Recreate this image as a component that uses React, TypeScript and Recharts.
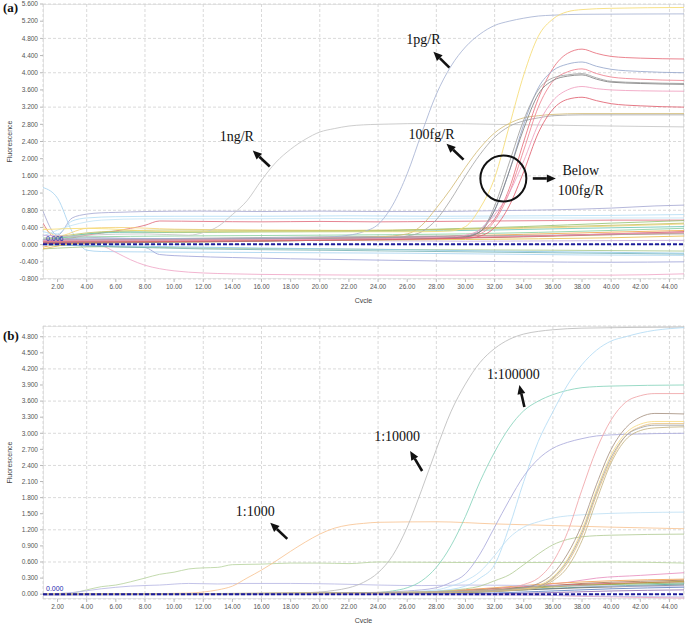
import { LineChart, Line, XAxis, YAxis, CartesianGrid, ReferenceLine, ReferenceDot, ReferenceArea } from "recharts";

type Pt = [number, number];

const cycleTicks = [2, 4, 6, 8, 10, 12, 14, 16, 18, 20, 22, 24, 26, 28, 30, 32, 34, 36, 38, 40, 42, 44];
const fluorTicksA = [-0.8, -0.4, 0, 0.4, 0.8, 1.2, 1.6, 2.0, 2.4, 2.8, 3.2, 3.6, 4.0, 4.4, 4.8, 5.2, 5.6];
const fluorTicksB = [0, 0.3, 0.6, 0.9, 1.2, 1.5, 1.8, 2.1, 2.4, 2.7, 3.0, 3.3, 3.6, 3.9, 4.2, 4.5, 4.8];

// ---- panel (a): template dilutions ----
const a1ng: Pt[] = [[1, 0.15], [4, 0.22], [8, 0.25], [11, 0.22], [12, 0.28], [13, 0.42], [14, 0.7], [15, 1.02], [16, 1.5], [17, 1.92], [18, 2.22], [19, 2.45], [20, 2.62], [21, 2.7], [22, 2.76], [24, 2.8], [28, 2.82], [32, 2.8], [36, 2.78], [40, 2.76], [45, 2.74]];
const a1pg: Pt[] = [[1, 0.1], [4, 0.15], [10, 0.14], [16, 0.15], [20, 0.17], [22, 0.22], [23, 0.3], [24, 0.47], [25, 0.92], [26, 1.65], [27, 2.6], [28, 3.5], [29, 4.15], [30, 4.6], [31, 4.9], [32, 5.1], [33, 5.2], [34, 5.27], [35, 5.32], [36, 5.34], [38, 5.36], [45, 5.37]];
const a100fgTan: Pt[] = [[1, 0.1], [10, 0.12], [20, 0.15], [24, 0.18], [26, 0.25], [27, 0.45], [28, 0.85], [29, 1.3], [30, 1.8], [31, 2.25], [32, 2.6], [33, 2.82], [34, 2.95], [35, 3.0], [36, 3.03], [38, 3.05], [45, 3.05]];
const a100fgGray: Pt[] = [[1, 0.05], [10, 0.1], [20, 0.12], [25, 0.15], [26, 0.2], [27, 0.3], [28, 0.58], [29, 1.05], [30, 1.6], [31, 2.1], [32, 2.5], [33, 2.75], [34, 2.88], [35, 2.95], [36, 3.0], [38, 3.02], [45, 3.02]];
const aYellowTop: Pt[] = [[1, 0.35], [4, 0.38], [10, 0.3], [20, 0.3], [27, 0.3], [29, 0.32], [30, 0.42], [31, 0.85], [32, 1.55], [33, 2.75], [34, 3.95], [35, 4.85], [36, 5.25], [37, 5.42], [38, 5.47], [40, 5.5], [45, 5.52]];
const aLowRed1: Pt[] = [[1, 0.1], [20, 0.15], [30, 0.2], [31, 0.3], [32, 0.6], [33, 1.3], [34, 2.4], [35, 3.4], [36, 4.1], [37, 4.45], [38, 4.55], [39, 4.45], [40, 4.38], [42, 4.34], [45, 4.32]];
const aLowSlate: Pt[] = [[1, 0.12], [20, 0.15], [30, 0.2], [31, 0.35], [32, 0.8], [33, 1.7], [34, 2.8], [35, 3.65], [36, 4.05], [37, 4.2], [38, 4.25], [39, 4.15], [40, 4.08], [42, 4.03], [45, 4.0]];
const aLowRed2: Pt[] = [[1, 0.08], [20, 0.12], [30, 0.18], [31, 0.25], [32, 0.55], [33, 1.2], [34, 2.2], [35, 3.2], [36, 3.8], [37, 4.02], [38, 4.09], [39, 3.98], [40, 3.9], [42, 3.85], [45, 3.82]];
const aLowGray: Pt[] = [[1, 0.1], [20, 0.14], [30, 0.2], [31, 0.3], [32, 0.9], [33, 1.9], [34, 2.9], [35, 3.6], [36, 3.88], [37, 3.95], [38, 3.98], [39, 3.88], [40, 3.8], [42, 3.77], [45, 3.75]];
const aLowDark: Pt[] = [[1, 0.05], [20, 0.1], [30, 0.18], [31, 0.3], [32, 0.8], [33, 1.7], [34, 2.7], [35, 3.5], [36, 3.82], [37, 3.92], [38, 3.95], [39, 3.85], [40, 3.78], [42, 3.75], [45, 3.73]];
const aLowPink: Pt[] = [[1, 0.1], [20, 0.12], [29, 0.18], [30, 0.22], [31, 0.35], [32, 0.7], [33, 1.2], [34, 1.95], [35, 2.8], [36, 3.35], [37, 3.6], [38, 3.68], [39, 3.63], [40, 3.6], [42, 3.58], [45, 3.57]];
const aLowRed3: Pt[] = [[1, 0.06], [20, 0.1], [30, 0.15], [31, 0.2], [32, 0.4], [33, 0.9], [34, 1.7], [35, 2.6], [36, 3.15], [37, 3.38], [38, 3.43], [39, 3.35], [40, 3.28], [42, 3.23], [45, 3.2]];

const aBaseViolet: Pt[] = [[1, 0.78], [2, 0.22], [3, 0.62], [4, 0.71], [5, 0.74], [6, 0.75], [8, 0.77], [12, 0.78], [16, 0.77], [20, 0.78], [24, 0.77], [28, 0.77], [32, 0.79], [36, 0.81], [40, 0.85], [43, 0.9], [45, 0.92]];
const aBaseSky: Pt[] = [[1, 1.33], [2, 1.08], [3, 0.3], [4, -0.13], [5, -0.16], [8, -0.17], [14, -0.18], [20, -0.19], [26, -0.2], [32, -0.22], [38, -0.24], [45, -0.25]];
const aBasePinkLow: Pt[] = [[1, 0.08], [3, 0.02], [5, -0.03], [6, -0.18], [7, -0.35], [8, -0.48], [9, -0.56], [10, -0.61], [12, -0.66], [14, -0.68], [18, -0.7], [26, -0.71], [34, -0.71], [40, -0.71], [45, -0.68]];
const aBaseBlueLow: Pt[] = [[1, 0.02], [5, -0.04], [8, -0.07], [9, -0.23], [11, -0.27], [14, -0.3], [18, -0.33], [22, -0.35], [28, -0.38], [34, -0.4], [40, -0.41], [45, -0.4]];
const aBaseRed: Pt[] = [[1, 0.5], [2, 0.12], [4, 0.22], [6, 0.32], [8, 0.45], [9, 0.55], [12, 0.54], [16, 0.53], [20, 0.54], [24, 0.53], [28, 0.54], [32, 0.55], [36, 0.56], [40, 0.57], [45, 0.57]];
const aBaseSky2: Pt[] = [[1, 0.3], [2, 0.25], [3, 0.55], [4, 0.62], [6, 0.65], [10, 0.66], [16, 0.66], [22, 0.67], [28, 0.66], [34, 0.67], [40, 0.68], [45, 0.7]];
const aBaseSky3: Pt[] = [[1, 0.2], [3, 0.45], [5, 0.57], [8, 0.6], [14, 0.6], [20, 0.61], [26, 0.6], [32, 0.62], [38, 0.62], [45, 0.62]];
const aBaseYellow: Pt[] = [[1, 0.42], [2, 0.2], [4, 0.38], [6, 0.4], [10, 0.36], [16, 0.34], [22, 0.33], [28, 0.35], [34, 0.38], [40, 0.43], [45, 0.48]];
const aBaseGreen: Pt[] = [[1, 0.1], [3, 0.2], [6, 0.3], [10, 0.28], [16, 0.3], [22, 0.31], [28, 0.36], [34, 0.42], [40, 0.5], [45, 0.56]];
const aBaseTeal: Pt[] = [[1, 0.05], [4, 0.25], [7, 0.29], [12, 0.3], [18, 0.3], [25, 0.31], [32, 0.34], [38, 0.38], [45, 0.42]];
const aBaseOrange: Pt[] = [[1, -0.06], [4, 0.1], [10, 0.12], [16, 0.13], [22, 0.15], [28, 0.19], [34, 0.24], [40, 0.29], [45, 0.33]];
const aBaseBrown: Pt[] = [[1, 0.0], [6, 0.04], [12, 0.06], [20, 0.1], [28, 0.14], [34, 0.18], [40, 0.23], [45, 0.27]];
const aBaseGray: Pt[] = [[1, 0.05], [6, 0.12], [12, 0.15], [20, 0.18], [28, 0.2], [36, 0.22], [45, 0.25]];
const aBaseCrimson: Pt[] = [[1, 0.02], [6, 0.06], [12, 0.08], [20, 0.12], [28, 0.15], [34, 0.19], [40, 0.25], [45, 0.3]];
const aBaseSage: Pt[] = [[1, -0.1], [5, -0.05], [12, -0.08], [20, -0.1], [28, -0.12], [36, -0.13], [45, -0.15]];
const aBaseSea: Pt[] = [[1, 0.0], [6, -0.05], [12, -0.1], [20, -0.13], [28, -0.16], [36, -0.19], [45, -0.22]];
const aBaseOlive: Pt[] = [[1, 0.12], [5, 0.3], [10, 0.34], [16, 0.33], [22, 0.33], [28, 0.35], [34, 0.4], [40, 0.45], [45, 0.5]];
const aBaseLilac: Pt[] = [[1, 0.22], [5, 0.16], [12, 0.12], [20, 0.1], [30, 0.08], [38, 0.09], [45, 0.1]];
const aBaseIce: Pt[] = [[1, 0.0], [8, -0.04], [16, -0.08], [24, -0.11], [32, -0.15], [40, -0.18], [45, -0.2]];
const aBaseRose: Pt[] = [[1, 0.06], [8, 0.09], [16, 0.11], [24, 0.13], [30, 0.17], [36, 0.21], [40, 0.25], [45, 0.28]];
const aBaseGold: Pt[] = [[1, -0.1], [4, 0.05], [10, 0.08], [20, 0.1], [30, 0.12], [40, 0.16], [45, 0.2]];
const aBaseMint: Pt[] = [[1, 0.15], [4, 0.18], [10, 0.2], [20, 0.22], [30, 0.25], [40, 0.33], [45, 0.38]];

// ---- panel (b): sample dilutions ----
const b1000: Pt[] = [[1, 0], [8, 0.01], [11, 0.02], [12, 0.04], [13, 0.08], [14, 0.15], [15, 0.3], [16, 0.45], [17, 0.62], [18, 0.8], [19, 0.97], [20, 1.12], [21, 1.23], [22, 1.29], [23, 1.32], [24, 1.34], [28, 1.35], [32, 1.31], [36, 1.28], [40, 1.25], [45, 1.22]];
const b10000: Pt[] = [[1, 0], [10, 0.01], [18, 0.02], [20, 0.04], [21, 0.07], [22, 0.12], [23, 0.22], [24, 0.4], [25, 0.72], [26, 1.25], [27, 1.95], [28, 2.7], [29, 3.4], [30, 3.92], [31, 4.32], [32, 4.58], [33, 4.75], [34, 4.85], [35, 4.9], [36, 4.93], [38, 4.96], [45, 4.98]];
const b100000: Pt[] = [[1, 0], [20, 0.01], [24, 0.03], [25, 0.06], [26, 0.12], [27, 0.25], [28, 0.5], [29, 0.9], [30, 1.45], [31, 2.1], [32, 2.65], [33, 3.1], [34, 3.42], [35, 3.6], [36, 3.72], [37, 3.8], [38, 3.85], [40, 3.88], [45, 3.9]];
const bSkyTall: Pt[] = [[1, 0], [24, 0.02], [28, 0.06], [30, 0.15], [31, 0.3], [32, 0.55], [33, 1.25], [34, 2.1], [35, 2.85], [36, 3.4], [37, 3.9], [38, 4.28], [39, 4.55], [40, 4.72], [41, 4.8], [42, 4.87], [43, 4.92], [44, 4.95], [45, 4.97]];
const bLavender: Pt[] = [[1, 0], [22, 0.02], [26, 0.06], [28, 0.12], [29, 0.22], [30, 0.38], [31, 0.75], [32, 1.25], [33, 1.75], [34, 2.2], [35, 2.52], [36, 2.72], [37, 2.83], [38, 2.9], [39, 2.95], [41, 2.98], [45, 3.0]];
const bSkyLow: Pt[] = [[1, 0], [24, 0.02], [28, 0.08], [29, 0.15], [30, 0.25], [31, 0.42], [32, 0.72], [33, 1.05], [34, 1.25], [35, 1.35], [36, 1.42], [38, 1.48], [42, 1.52], [45, 1.53]];
const bGreenMid: Pt[] = [[1, 0], [26, 0.03], [30, 0.1], [31, 0.15], [32, 0.25], [33, 0.36], [34, 0.55], [35, 0.75], [36, 0.92], [37, 1.02], [38, 1.07], [40, 1.1], [45, 1.12]];
const bGreenFlat: Pt[] = [[1, 0], [2, 0], [3, 0.02], [4, 0.08], [5, 0.14], [6, 0.17], [7, 0.23], [8, 0.3], [9, 0.37], [10, 0.41], [11, 0.47], [12, 0.49], [13, 0.5], [14, 0.55], [16, 0.56], [18, 0.58], [20, 0.58], [22, 0.57], [24, 0.6], [30, 0.59], [36, 0.59], [40, 0.6], [45, 0.58]];
const bLilacFlat: Pt[] = [[1, 0], [3, 0.03], [5, 0.1], [7, 0.15], [9, 0.17], [11, 0.2], [13, 0.19], [15, 0.2], [18, 0.2], [21, 0.19], [24, 0.17], [27, 0.16], [30, 0.17], [35, 0.16], [40, 0.15], [45, 0.15]];
const bLatePink: Pt[] = [[1, 0], [25, 0.02], [30, 0.06], [33, 0.12], [34, 0.18], [35, 0.3], [36, 0.6], [37, 1.15], [38, 1.95], [39, 2.7], [40, 3.25], [41, 3.58], [42, 3.7], [43, 3.74], [45, 3.74]];
const bLateBrown: Pt[] = [[1, 0], [25, 0.02], [30, 0.05], [34, 0.12], [35, 0.2], [36, 0.38], [37, 0.75], [38, 1.3], [39, 2.05], [40, 2.7], [41, 3.1], [42, 3.3], [43, 3.37], [45, 3.36]];
const bLateYellow: Pt[] = [[1, 0], [30, 0.05], [34, 0.1], [35, 0.16], [36, 0.32], [37, 0.65], [38, 1.2], [39, 1.95], [40, 2.6], [41, 3.0], [42, 3.17], [43, 3.22], [45, 3.22]];
const bLateOrange: Pt[] = [[1, 0], [30, 0.04], [34, 0.1], [35, 0.15], [36, 0.28], [37, 0.58], [38, 1.1], [39, 1.85], [40, 2.5], [41, 2.95], [42, 3.12], [43, 3.18], [45, 3.18]];
const bLateOlive: Pt[] = [[1, 0], [30, 0.04], [34, 0.08], [35, 0.12], [36, 0.25], [37, 0.5], [38, 1.0], [39, 1.75], [40, 2.45], [41, 2.88], [42, 3.05], [43, 3.1], [45, 3.12]];
const bLateGray: Pt[] = [[1, 0], [30, 0.05], [35, 0.15], [36, 0.3], [37, 0.62], [38, 1.15], [39, 1.9], [40, 2.55], [41, 2.95], [42, 3.1], [43, 3.15], [45, 3.15]];
const bBasePink: Pt[] = [[1, 0], [20, 0.01], [26, 0.03], [30, 0.08], [34, 0.14], [37, 0.22], [39, 0.3], [42, 0.35], [45, 0.4]];
const bBaseOrange: Pt[] = [[1, 0], [24, 0.01], [28, 0.05], [32, 0.12], [36, 0.2], [40, 0.25], [45, 0.28]];
const bBaseBrown: Pt[] = [[1, 0], [26, 0.02], [30, 0.06], [34, 0.12], [38, 0.2], [42, 0.24], [45, 0.26]];
const bBaseRed: Pt[] = [[1, -0.01], [28, 0.03], [32, 0.1], [36, 0.16], [40, 0.2], [45, 0.23]];
const bBaseGreen: Pt[] = [[1, 0], [27, 0.02], [31, 0.08], [35, 0.14], [40, 0.18], [45, 0.21]];
const bBaseTeal: Pt[] = [[1, 0], [28, 0.02], [33, 0.07], [37, 0.12], [41, 0.16], [45, 0.19]];
const bBaseDark: Pt[] = [[1, 0], [30, 0.03], [34, 0.08], [38, 0.12], [42, 0.15], [45, 0.17]];
const bBaseBlue: Pt[] = [[1, -0.01], [30, 0.01], [35, 0.05], [40, 0.1], [45, 0.13]];
const bBaseOlive: Pt[] = [[1, 0], [29, 0.03], [33, 0.09], [37, 0.15], [41, 0.2], [45, 0.24]];
const bBasePurple: Pt[] = [[1, 0], [30, 0.0], [36, 0.03], [40, 0.06], [45, 0.08]];
const bBaseRoseLow: Pt[] = [[1, 0], [34, -0.01], [38, -0.04], [42, -0.06], [45, -0.07]];
const bBaseLilacLow: Pt[] = [[1, -0.02], [20, -0.01], [35, -0.02], [40, -0.04], [45, -0.05]];

const seriesA: { id: string; pts: Pt[]; color: string }[] = [
  { id: "aBaseViolet", pts: aBaseViolet, color: "#a8aad4" },
  { id: "aBaseSky", pts: aBaseSky, color: "#a8d4f0" },
  { id: "aBasePinkLow", pts: aBasePinkLow, color: "#f0a8c8" },
  { id: "aBaseBlueLow", pts: aBaseBlueLow, color: "#a0a4d8" },
  { id: "aBaseRed", pts: aBaseRed, color: "#e07080" },
  { id: "aBaseSky2", pts: aBaseSky2, color: "#b4ddf4" },
  { id: "aBaseSky3", pts: aBaseSky3, color: "#c4e4f4" },
  { id: "aBaseYellow", pts: aBaseYellow, color: "#f4d27a" },
  { id: "aBaseGreen", pts: aBaseGreen, color: "#98c478" },
  { id: "aBaseTeal", pts: aBaseTeal, color: "#6cc4b4" },
  { id: "aBaseOrange", pts: aBaseOrange, color: "#f2a64a" },
  { id: "aBaseBrown", pts: aBaseBrown, color: "#b48a5a" },
  { id: "aBaseGray", pts: aBaseGray, color: "#a4a4a4" },
  { id: "aBaseCrimson", pts: aBaseCrimson, color: "#c84858" },
  { id: "aBaseSage", pts: aBaseSage, color: "#a8c88c" },
  { id: "aBaseSea", pts: aBaseSea, color: "#78b4b4" },
  { id: "aBaseOlive", pts: aBaseOlive, color: "#c4c468" },
  { id: "aBaseLilac", pts: aBaseLilac, color: "#c4a8d8" },
  { id: "aBaseIce", pts: aBaseIce, color: "#90cae8" },
  { id: "aBaseRose", pts: aBaseRose, color: "#ea94b4" },
  { id: "aBaseGold", pts: aBaseGold, color: "#e8c050" },
  { id: "aBaseMint", pts: aBaseMint, color: "#88d0a0" },
  { id: "a1ng", pts: a1ng, color: "#c4c4c4" },
  { id: "a1pg", pts: a1pg, color: "#a8b4d4" },
  { id: "a100fgTan", pts: a100fgTan, color: "#d4bc78" },
  { id: "a100fgGray", pts: a100fgGray, color: "#a8a8a8" },
  { id: "aYellowTop", pts: aYellowTop, color: "#f6dc74" },
  { id: "aLowRed1", pts: aLowRed1, color: "#e8707c" },
  { id: "aLowSlate", pts: aLowSlate, color: "#98a8cc" },
  { id: "aLowRed2", pts: aLowRed2, color: "#ee8290" },
  { id: "aLowGray", pts: aLowGray, color: "#a0a0a0" },
  { id: "aLowDark", pts: aLowDark, color: "#808080" },
  { id: "aLowPink", pts: aLowPink, color: "#f0a0c0" },
  { id: "aLowRed3", pts: aLowRed3, color: "#e06070" },
];

const seriesB: { id: string; pts: Pt[]; color: string }[] = [
  { id: "bBasePink", pts: bBasePink, color: "#e890c0" },
  { id: "bBaseOrange", pts: bBaseOrange, color: "#f0a050" },
  { id: "bBaseBrown", pts: bBaseBrown, color: "#a87850" },
  { id: "bBaseRed", pts: bBaseRed, color: "#d05060" },
  { id: "bBaseGreen", pts: bBaseGreen, color: "#80b060" },
  { id: "bBaseTeal", pts: bBaseTeal, color: "#50a8a0" },
  { id: "bBaseDark", pts: bBaseDark, color: "#707070" },
  { id: "bBaseBlue", pts: bBaseBlue, color: "#6080c0" },
  { id: "bBaseOlive", pts: bBaseOlive, color: "#b0a040" },
  { id: "bBasePurple", pts: bBasePurple, color: "#9070b0" },
  { id: "bBaseRoseLow", pts: bBaseRoseLow, color: "#f0a0c0" },
  { id: "bBaseLilacLow", pts: bBaseLilacLow, color: "#c0c0e8" },
  { id: "bGreenFlat", pts: bGreenFlat, color: "#b8d4a0" },
  { id: "bLilacFlat", pts: bLilacFlat, color: "#b8b8e4" },
  { id: "b1000", pts: b1000, color: "#f8c494" },
  { id: "b10000", pts: b10000, color: "#bcbcbc" },
  { id: "b100000", pts: b100000, color: "#88d4bc" },
  { id: "bSkyTall", pts: bSkyTall, color: "#b4dcf4" },
  { id: "bLavender", pts: bLavender, color: "#acacdc" },
  { id: "bSkyLow", pts: bSkyLow, color: "#c0e0f4" },
  { id: "bGreenMid", pts: bGreenMid, color: "#b4cc98" },
  { id: "bLatePink", pts: bLatePink, color: "#f0a4a8" },
  { id: "bLateBrown", pts: bLateBrown, color: "#a89484" },
  { id: "bLateYellow", pts: bLateYellow, color: "#f8dc84" },
  { id: "bLateOrange", pts: bLateOrange, color: "#e8c07c" },
  { id: "bLateOlive", pts: bLateOlive, color: "#c4b484" },
  { id: "bLateGray", pts: bLateGray, color: "#a4a4a4" },
];

const toRows = (pts: Pt[]) => pts.map(([x, y]) => ({ x, y }));

const tickStyle = { fontSize: 6.5, fill: "#555", fontFamily: "Liberation Sans" };

function Arrow({ hx, hy, dx, dy }: { hx: number; hy: number; dx: number; dy: number }) {
  const tx = hx + dx;
  const ty = hy + dy;
  const len = Math.hypot(dx, dy);
  const ux = -dx / len;
  const uy = -dy / len;
  const bx = hx - ux * 9;
  const by = hy - uy * 9;
  const px = -uy;
  const py = ux;
  return (
    <g>
      <line x1={tx} y1={ty} x2={bx} y2={by} stroke="#111" strokeWidth={2.6} />
      <polygon points={`${hx},${hy} ${bx + px * 4},${by + py * 4} ${bx - px * 4},${by - py * 4}`} fill="#111" />
    </g>
  );
}

const serif = { fontFamily: "Liberation Serif", fontSize: 14, fill: "#111" };

function callout(text: string, dx: number, dy: number, tdx: number, tdy: number) {
  return (props: any) => (
    <g>
      <Arrow hx={props.cx} hy={props.cy} dx={dx} dy={dy} />
      <text x={props.cx + tdx} y={props.cy + tdy} textAnchor="middle" dominantBaseline="central" {...serif}>
        {text}
      </text>
    </g>
  );
}

function Panel({ series, yTicks, yDomain, threshold, thresholdLabel, height, top, children }: any) {
  return (
    <LineChart width={685} height={height} margin={{ top, right: 1, left: 0, bottom: 0 }}>
      <CartesianGrid stroke="#dadada" strokeDasharray="3 2" />
      <ReferenceArea x1={1} x2={45} y1={yDomain[0]} y2={yDomain[1]} fill="none" stroke="#cfcfcf" ifOverflow="hidden" />
      <XAxis
        type="number"
        dataKey="x"
        domain={[1, 45]}
        ticks={cycleTicks}
        allowDataOverflow
        tickFormatter={(v: number) => v.toFixed(2)}
        tick={tickStyle}
        tickSize={3}
        tickMargin={2}
        axisLine={false}
        tickLine={{ stroke: "#b8b8b8" }}
        height={24}
        label={{ value: "Cycle", position: "insideBottom", offset: 0, style: { fontSize: 7, fill: "#444", fontFamily: "Liberation Sans" } }}
      />
      <YAxis
        type="number"
        domain={yDomain}
        ticks={yTicks}
        allowDataOverflow
        tickFormatter={(v: number) => v.toFixed(3)}
        tick={tickStyle}
        tickSize={3}
        tickMargin={2}
        axisLine={false}
        tickLine={{ stroke: "#b8b8b8" }}
        width={43}
        label={{ value: "Fluorescence", angle: -90, position: "insideLeft", offset: 10, style: { fontSize: 7, fill: "#444", fontFamily: "Liberation Sans", textAnchor: "middle" } }}
      />
      {series.map((s: any) => (
        <Line
          key={s.id}
          data={toRows(s.pts)}
          dataKey="y"
          type="monotone"
          stroke={s.color}
          strokeWidth={1}
          strokeOpacity={0.85}
          dot={false}
          activeDot={false}
          isAnimationActive={false}
        />
      ))}
      <ReferenceLine
        y={threshold}
        stroke="#1c1c9c"
        strokeWidth={2}
        strokeDasharray="4 2"
        label={{ value: thresholdLabel, position: "insideBottomLeft", offset: 3, style: { fontSize: 7, fill: "#2a2ab0", fontFamily: "Liberation Sans" } }}
      />
      {children}
    </LineChart>
  );
}

export default function App() {
  return (
    <div style={{ position: "absolute", left: 0, top: 0, width: 685, height: 623, background: "#fff" }}>
      <div style={{ position: "absolute", left: 0, top: 0 }}>
        <Panel series={seriesA} yTicks={fluorTicksA} yDomain={[-0.8, 5.6]} threshold={0.006} thresholdLabel="0.006" height={303} top={4}>
          <ReferenceDot x={15.4} y={2.19} r={1} ifOverflow="visible" shape={callout("1ng/R", 17, 16, -16, -14)} />
          <ReferenceDot x={27.8} y={4.49} r={1} ifOverflow="visible" shape={callout("1pg/R", 16, 16, -10, -12)} />
          <ReferenceDot x={28.7} y={2.35} r={1} ifOverflow="visible" shape={callout("100fg/R", 17, 16, -15, -9)} />
          <ReferenceDot
            x={32.6}
            y={1.54}
            r={23}
            ifOverflow="visible"
            shape={(p: any) => <circle cx={p.cx} cy={p.cy} r={23} fill="none" stroke="#111" strokeWidth={2} />}
          />
          <ReferenceDot
            x={36.2}
            y={1.54}
            r={1}
            ifOverflow="visible"
            shape={(p: any) => (
              <g>
                <Arrow hx={p.cx} hy={p.cy} dx={-23} dy={0} />
                <text x={p.cx + 25} y={p.cy - 8} textAnchor="middle" dominantBaseline="central" {...serif}>Below</text>
                <text x={p.cx + 25} y={p.cy + 12} textAnchor="middle" dominantBaseline="central" {...serif}>100fg/R</text>
              </g>
            )}
          />
        </Panel>
      </div>
      <div style={{ position: "absolute", left: 0, top: 318 }}>
        <Panel series={seriesB} yTicks={fluorTicksB} yDomain={[-0.09, 5.0]} threshold={0} thresholdLabel="0.000" height={305} top={8}>
          <ReferenceDot x={16.6} y={1.33} r={1} ifOverflow="visible" shape={callout("1:1000", 17, 16, -15, -11)} />
          <ReferenceDot x={26.2} y={2.67} r={1} ifOverflow="visible" shape={callout("1:10000", 12, 20, -13, -14)} />
          <ReferenceDot x={33.7} y={3.9} r={1} ifOverflow="visible" shape={callout("1:100000", 5, 22, -6, -10)} />
        </Panel>
      </div>
      <div style={{ position: "absolute", left: 3, top: 0, font: "bold 13px 'Liberation Serif'", color: "#111" }}>(a)</div>
      <div style={{ position: "absolute", left: 3, top: 328, font: "bold 13px 'Liberation Serif'", color: "#111" }}>(b)</div>
    </div>
  );
}
